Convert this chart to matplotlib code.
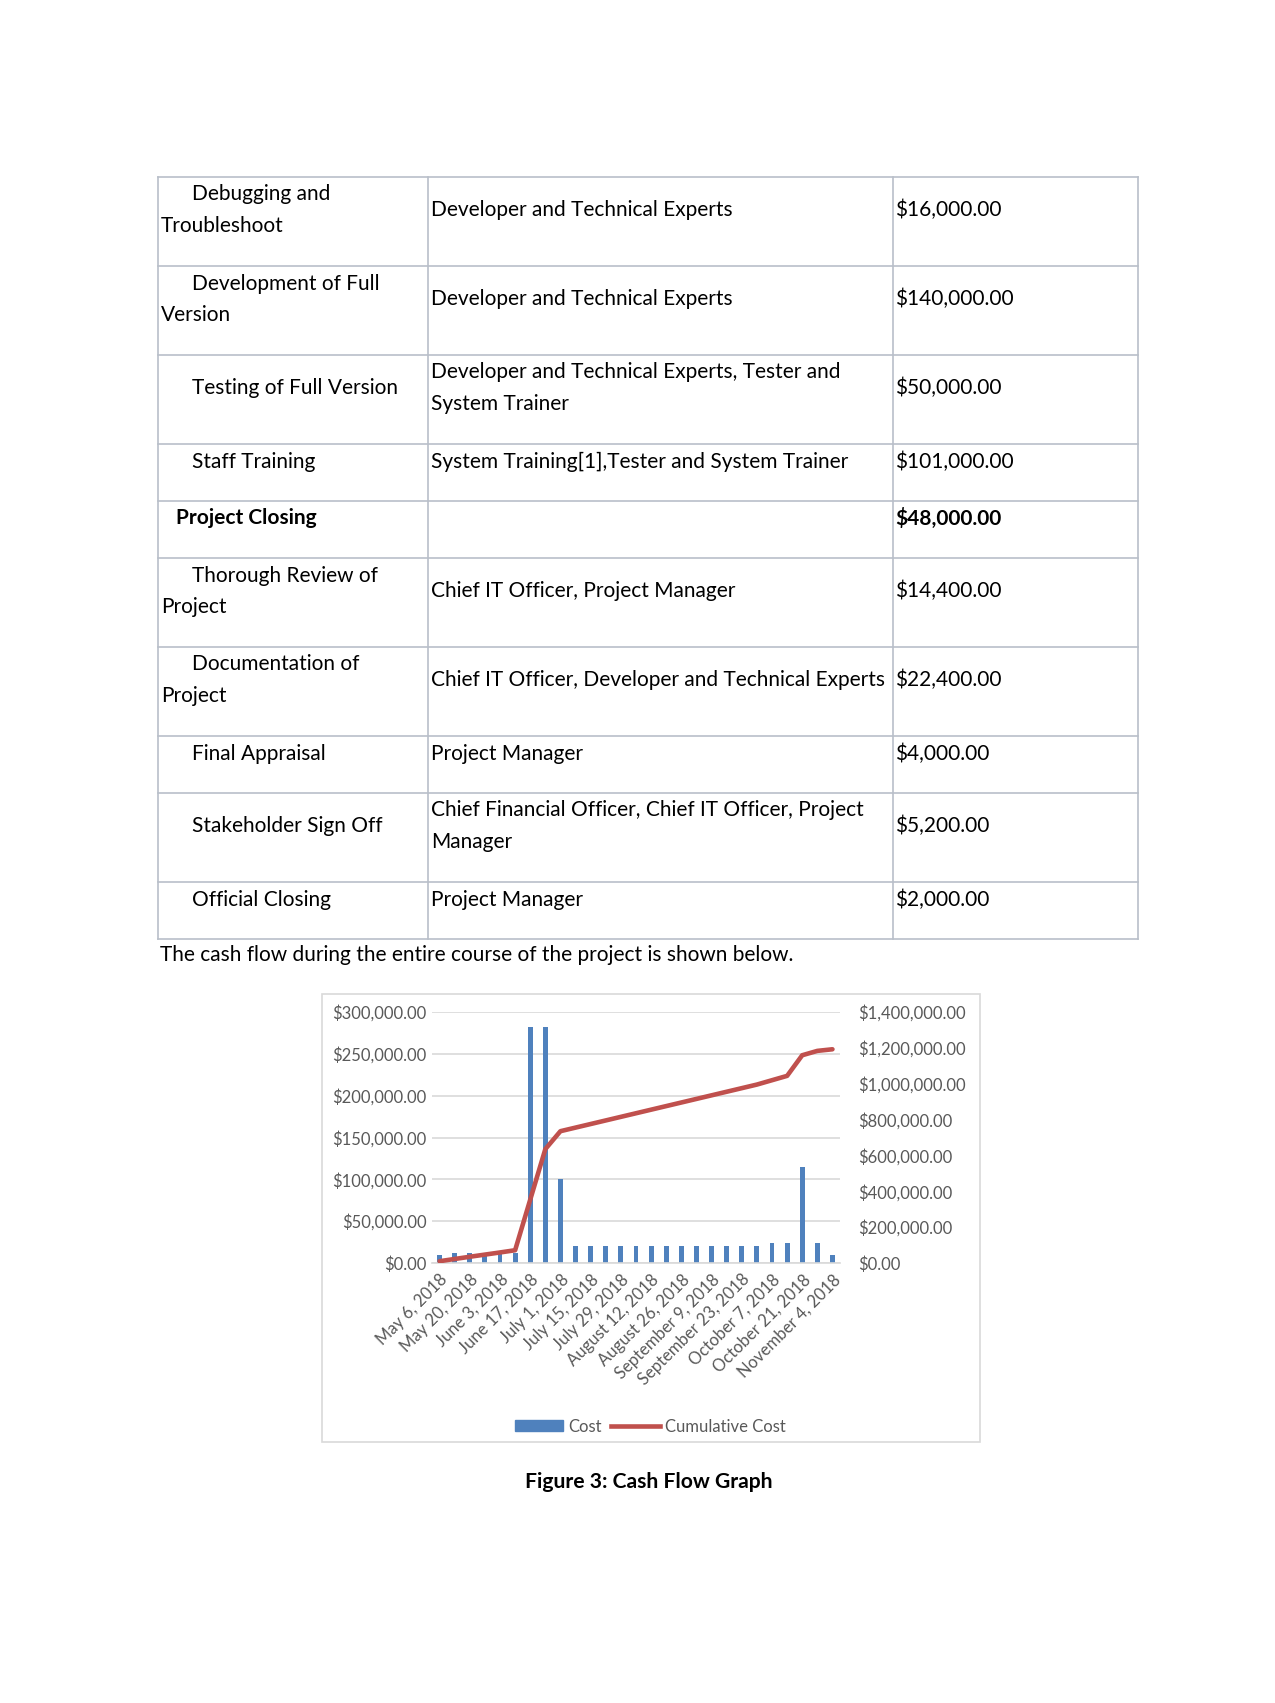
import matplotlib.pyplot as plt
from matplotlib.lines import Line2D
from matplotlib.patches import Patch, Rectangle
from matplotlib.ticker import FuncFormatter
import numpy as np

plt.rcParams['font.family'] = ['Lato', 'DejaVu Sans']

# table rows (manual line breaks as in the document)
tasks = [["Debugging and", "Troubleshoot"],
         ["Development of Full", "Version"],
         ["Testing of Full Version"],
         ["Staff Training"],
         ["Project Closing"],
         ["Thorough Review of", "Project"],
         ["Documentation of", "Project"],
         ["Final Appraisal"],
         ["Stakeholder Sign Off"],
         ["Official Closing"]]
resources = [["Developer and Technical Experts"],
             ["Developer and Technical Experts"],
             ["Developer and Technical Experts, Tester and", "System Trainer"],
             ["System Training[1],Tester and System Trainer"],
             [],
             ["Chief IT Officer, Project Manager"],
             ["Chief IT Officer, Developer and Technical Experts"],
             ["Project Manager"],
             ["Chief Financial Officer, Chief IT Officer, Project", "Manager"],
             ["Project Manager"]]
task_costs = ["$16,000.00", "$140,000.00", "$50,000.00", "$101,000.00", "$48,000.00",
              "$14,400.00", "$22,400.00", "$4,000.00", "$5,200.00", "$2,000.00"]
bold_rows = [4]

# chart data
weeks = ["May 6, 2018", "May 13, 2018", "May 20, 2018", "May 27, 2018", "June 3, 2018",
         "June 10, 2018", "June 17, 2018", "June 24, 2018", "July 1, 2018", "July 8, 2018",
         "July 15, 2018", "July 22, 2018", "July 29, 2018", "August 5, 2018",
         "August 12, 2018", "August 19, 2018", "August 26, 2018", "September 2, 2018",
         "September 9, 2018", "September 16, 2018", "September 23, 2018",
         "September 30, 2018", "October 7, 2018", "October 14, 2018", "October 21, 2018",
         "October 28, 2018", "November 4, 2018"]
cost = [10000, 12400, 12400, 12000, 12000, 12400, 282000, 282000, 100000,
        20000, 20000, 20000, 20000, 20000, 20000, 20000, 20000, 20000, 20000, 20000,
        20000, 20000, 24300, 24300, 115000, 24300, 9000]
cumulative = [10000, 22400, 34800, 46800, 58800, 71200, 353200, 635200, 735200,
              755200, 775200, 795200, 815200, 835200, 855200, 875200, 895200, 915200,
              935200, 955200, 975200, 995200, 1019500, 1043800, 1158800, 1183100, 1192100]

W, H = 1275, 1703
fig = plt.figure(figsize=(W / 100, H / 100), dpi=100)
page = fig.add_axes([0, 0, 1, 1])
page.set_xlim(0, W)
page.set_ylim(H, 0)
page.axis('off')

# ---- table ----
border = '#b9bfc9'
tx0, tx1, tx2, tx3 = 158, 428, 892.5, 1138
top = 177
pitch = 31.7
body = 15.0
rows_y = [top]
for i in range(len(tasks)):
    n = max(len(tasks[i]), len(resources[i]), 1)
    h = 25 + 32 * n
    block_c = top + 17.5 + (n - 1) * pitch / 2
    for col, lines, x in [(0, tasks[i], 161), (1, resources[i], 431), (2, [task_costs[i]], 895)]:
        k = len(lines)
        for j, s in enumerate(lines):
            y = block_c + (j - (k - 1) / 2) * pitch
            xx = x
            weight = 'normal'
            if col == 0 and j == 0:
                xx = 176 if i in bold_rows else 191.5
            if i in bold_rows:
                weight = 'bold'
            page.text(xx, y, s, fontsize=body, va='center', ha='left', weight=weight, color='black')
    top += h
    rows_y.append(top)

for y in rows_y:
    page.plot([tx0, tx3], [y, y], color=border, lw=1.2)
for x in [tx0, tx1, tx2, tx3]:
    page.plot([x, x], [rows_y[0], rows_y[-1]], color=border, lw=1.2)

page.text(159.5, 955, "The cash flow during the entire course of the project is shown below.",
          fontsize=body, va='center', ha='left')

# ---- chart ----
page.add_patch(Rectangle((321.5, 994), 658, 448, fill=False, edgecolor='#d9d9d9', lw=1.2))

gray = '#595959'
blue = '#4f81bd'
red = '#c0504d'
fs = 12
pl, pr, pt, pb = 432, 840, 1012, 1263
ax = fig.add_axes([pl / W, 1 - pb / H, (pr - pl) / W, (pb - pt) / H])
ax.set_facecolor('none')
x = np.arange(len(cost))
ax.bar(x, cost, width=0.32, color=blue, zorder=2)
ax.set_xlim(-0.5, len(cost) - 0.5)
ax.set_ylim(0, 300000)
ax.set_yticks(np.arange(0, 300001, 50000))
ax.yaxis.set_major_formatter(FuncFormatter(lambda v, p: f"${v:,.2f}"))
ax.grid(axis='y', color='#d9d9d9', lw=1.2, zorder=0)
for s in ['top', 'right', 'left']:
    ax.spines[s].set_visible(False)
ax.spines['bottom'].set_color('#d9d9d9')
ax.spines['bottom'].set_linewidth(1.2)
ax.tick_params(axis='y', length=0, pad=4, labelsize=fs, labelcolor=gray)
ax.set_xticks(x[::2])
ax.set_xticklabels(weeks[::2], rotation=45, ha='right', va='top', rotation_mode='anchor')
ax.tick_params(axis='x', length=0, pad=6, labelsize=fs, labelcolor=gray)

ax2 = ax.twinx()
ax2.plot(x, cumulative, color=red, lw=3.3, solid_capstyle='round', zorder=3)
ax2.set_ylim(0, 1400000)
ax2.set_yticks(np.arange(0, 1400001, 200000))
ax2.yaxis.set_major_formatter(FuncFormatter(lambda v, p: f"${v:,.2f}"))
for s in ['top', 'right', 'left', 'bottom']:
    ax2.spines[s].set_visible(False)
ax2.tick_params(axis='y', length=0, pad=13, labelsize=fs, labelcolor=gray)

handles = [Patch(color=blue, label='Cost'), Line2D([0], [0], color=red, lw=3.3, label='Cumulative Cost')]
fig.legend(handles=handles, loc='center', bbox_to_anchor=(650 / W, 1 - 1426.5 / H), ncol=2,
           frameon=False, fontsize=fs, labelcolor=gray, handlelength=2.9, handleheight=0.6,
           handletextpad=0.3, columnspacing=0.6)

page.text(649, 1482.5, "Figure 3: Cash Flow Graph", fontsize=15.2, weight='bold', ha='center', va='center')

fig.savefig('out.png', dpi=100, facecolor='white')
